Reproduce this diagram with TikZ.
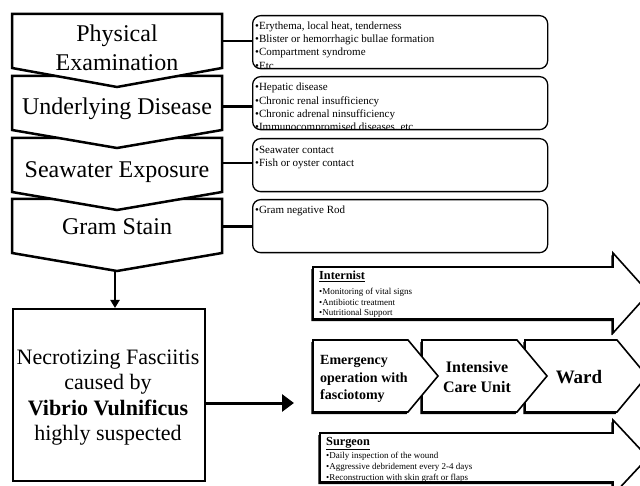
\documentclass[tikz,border=0pt]{standalone}
\usepackage{fontspec}
\setmainfont{Liberation Serif}
\usetikzlibrary{arrows.meta,shadows}
\begin{document}
\begin{tikzpicture}[x=1pt,y=-1pt,
  chev/.style={draw=black,fill=white,line width=2.5pt,line join=miter},
  rbox/.style={draw=black,line width=1.3pt,rounded corners=8pt,anchor=north west,
    minimum width=295pt,minimum height=53pt,inner sep=0pt},
  conn/.style={draw=black,line width=2.2pt},
  bigtxt/.style={font=\fontsize{24}{28}\selectfont,anchor=base,inner sep=0pt},
  smalltxt/.style={font=\fontsize{11}{13}\selectfont,anchor=base west,inner sep=0pt},
  tinytxt/.style={font=\fontsize{9}{11}\selectfont,anchor=base west,inner sep=0pt},
  shad/.style={draw=black,fill=white,line width=1.6pt,line join=miter,
    drop shadow={shadow xshift=-1.6pt,shadow yshift=-2.2pt,fill=black,opacity=1}},
  nftxt/.style={font=\fontsize{22}{25}\selectfont,anchor=base,inner sep=0pt}
]
\useasboundingbox (0,0) rectangle (640,486);
\fill[white] (0,0) rectangle (640,486);

% left chevrons, drawn bottom first
\path[chev] (12,199) -- (222,199) -- (222,253) -- (117,271) -- (12,253) -- cycle;
\path[chev] (12,138) -- (222,138) -- (222,192) -- (117,210) -- (12,192) -- cycle;
\path[chev] (12,76) -- (222,76) -- (222,130) -- (117,148) -- (12,130) -- cycle;
\path[chev] (12,14) -- (222,14) -- (222,68) -- (117,87) -- (12,68) -- cycle;

\node[bigtxt] (t1a) at (117,42) {Physical};
\node[bigtxt] (t1b) at (117,70.5) {Examination};
\node[bigtxt] (t2) at (117,115) {Underlying Disease};
\node[bigtxt] (t3) at (117,178) {Seawater Exposure};
\node[bigtxt] (t4) at (117,235) {Gram Stain};

% right rounded boxes with clipped text
\begin{scope}
\clip[rounded corners=8pt] (252,15) rectangle (547,68);
\foreach \t [count=\i] in {{•Erythema, local heat, tenderness},{•Blister or hemorrhagic bullae formation},{•Compartment syndrome},{•Etc}}
  \node[smalltxt] (a\i) at (255,{29.5+13.2*(\i-1)}) {\t};
\end{scope}
\begin{scope}
\clip[rounded corners=8pt] (252,76) rectangle (547,129);
\foreach \t [count=\i] in {{•Hepatic disease},{•Chronic renal insufficiency},{•Chronic adrenal ninsufficiency},{•Immunocompromised diseases, etc}}
  \node[smalltxt] (b\i) at (255,{91+13.3*(\i-1)}) {\t};
\end{scope}
\foreach \t [count=\i] in {{•Seawater contact},{•Fish or oyster contact}}
  \node[smalltxt] (c\i) at (255,{153.5+13*(\i-1)}) {\t};
\node[smalltxt] (d1) at (255,214) {•Gram negative Rod};

\node[rbox] (ra) at (252,15) {};
\node[rbox] (rb) at (252,76) {};
\node[rbox] (rc) at (252,138) {};
\node[rbox] (rd) at (252,199) {};

\coordinate (k1) at (222,41);
\coordinate (k2) at (222,106.5);
\coordinate (k3) at (222,163);
\coordinate (k4) at (222,226.5);
\draw[conn] (k1) -- (k1 -| ra.west);
\draw[conn] (k2) -- (k2 -| rb.west);
\draw[conn] (k3) -- (k3 -| rc.west);
\draw[conn] (k4) -- (k4 -| rd.west);

% big box
\node[draw=black,line width=2pt,minimum width=192pt,minimum height=172pt,anchor=north west,inner sep=0pt] (nf) at (12,308) {};
\node[nftxt] (n1) at (108,364) {Necrotizing Fasciitis};
\node[nftxt] (n2) at (108,389) {caused by};
\node[nftxt] (n3) at (108,415) {\textbf{Vibrio Vulnificus}};
\node[nftxt] (n4) at (108,440) {highly suspected};

\coordinate (g4) at (115,271);
\draw[line width=2pt,-{Triangle[length=8pt,width=9pt]}] (g4) -- (g4 |- nf.north);
\coordinate (ah) at (294,403);
\draw[line width=3pt,-{Triangle[length=12pt,width=17pt]}] (ah -| nf.east) -- (ah);

% Internist arrow
\path[shad] (313,267) -- (613,267) -- (613,253) -- (649,293) -- (613,333) -- (613,319) -- (313,319) -- cycle;
\node[font=\fontsize{12.3}{14}\selectfont\bfseries,anchor=base west,inner sep=0pt] (it) at (319,280) {\underline{Internist}};
\foreach \t [count=\i] in {{•Monitoring of vital signs},{•Antibiotic treatment},{•Nutritional Support}}
  \node[tinytxt] (i\i) at (319,{294.5+10.7*(\i-1)}) {\t};

% Surgeon arrow
\path[shad] (320,433) -- (613,433) -- (613,420) -- (648,457.5) -- (613,495) -- (613,482) -- (320,482) -- cycle;
\node[font=\fontsize{12.3}{14}\selectfont\bfseries,anchor=base west,inner sep=0pt] (st) at (326,445.5) {\underline{Surgeon}};
\foreach \t [count=\i] in {{•Daily inspection of the wound},{•Aggressive debridement every 2-4 days},{•Reconstruction with skin graft or flaps}}
  \node[tinytxt] (s\i) at (326,{458+11*(\i-1)}) {\t};

% process chevrons (Ward first, then ICU, then Emergency on top)
\path[shad] (525,340) -- (617,340) -- (647,376) -- (617,412) -- (525,412) -- cycle;
\path[shad] (422,340) -- (517,340) -- (547,376) -- (517,412) -- (422,412) -- cycle;
\path[shad] (313,340) -- (408,340) -- (438,376) -- (408,412) -- (313,412) -- cycle;

\node[font=\fontsize{14}{17}\selectfont\bfseries,anchor=base west,inner sep=0pt] (e1) at (320,364.5) {Emergency};
\node[font=\fontsize{14}{17}\selectfont\bfseries,anchor=base west,inner sep=0pt] (e2) at (320,382) {operation with};
\node[font=\fontsize{14}{17}\selectfont\bfseries,anchor=base west,inner sep=0pt] (e3) at (320,399) {fasciotomy};
\node[font=\fontsize{16}{20}\selectfont\bfseries,anchor=base,inner sep=0pt] (u1) at (477,372) {Intensive};
\node[font=\fontsize{16}{20}\selectfont\bfseries,anchor=base,inner sep=0pt] (u2) at (477,392) {Care Unit};
\node[font=\fontsize{19}{22}\selectfont\bfseries,anchor=base,inner sep=0pt] (w1) at (579,383) {Ward};
\end{tikzpicture}
\end{document}
